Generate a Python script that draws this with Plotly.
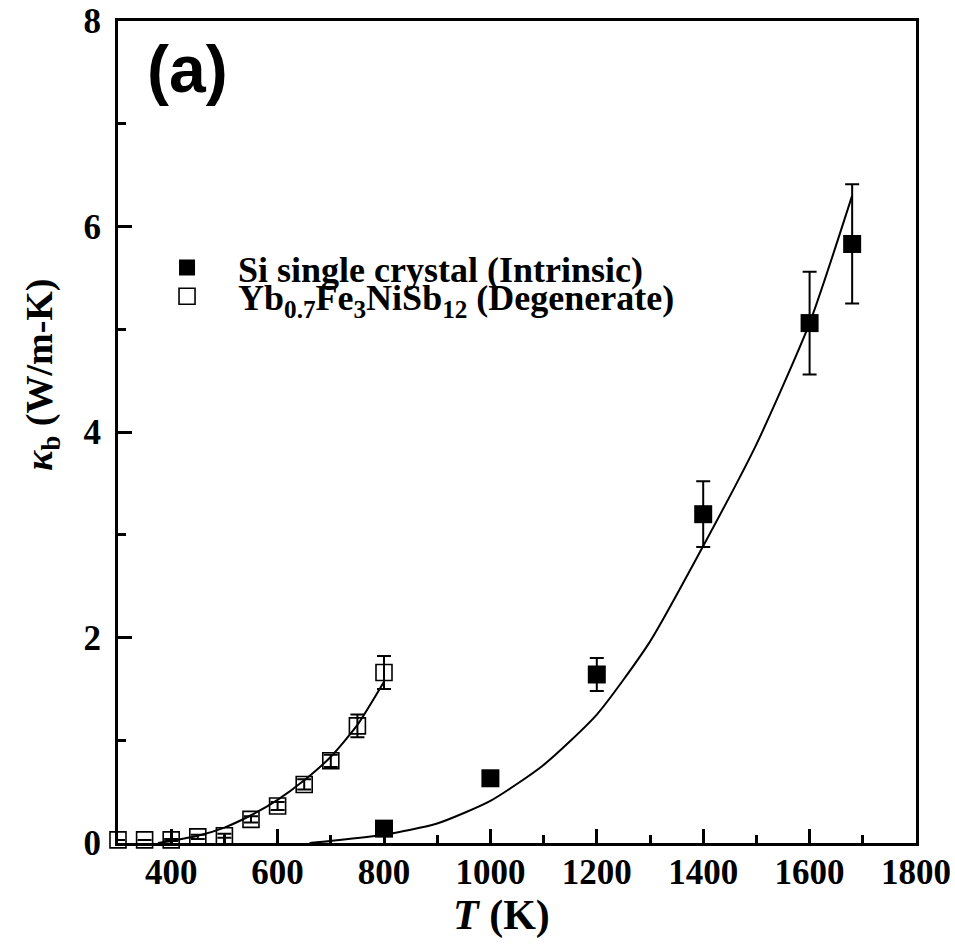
import plotly.graph_objects as go

# ---- data ----
si_T = [800, 1000, 1200, 1400, 1600, 1680]
si_kappa = [0.14, 0.63, 1.64, 3.20, 5.06, 5.83]
si_err = [0.0, 0.0, 0.16, 0.32, 0.50, 0.58]

si_fit_T = [660, 700, 800, 900, 1000, 1100, 1200, 1300, 1400, 1500, 1600, 1680]
si_fit_kappa = [0.0, 0.02, 0.08, 0.19, 0.41, 0.76, 1.25, 1.96, 2.89, 3.88, 5.06, 6.30]

yb_T = [300, 350, 400, 450, 500, 550, 600, 650, 700, 750, 800]
yb_kappa = [0.03, 0.03, 0.03, 0.06, 0.07, 0.23, 0.36, 0.57, 0.80, 1.14, 1.66]
yb_err = [0.0, 0.0, 0.01, 0.02, 0.02, 0.03, 0.04, 0.05, 0.06, 0.11, 0.16]

yb_fit_T = [375, 400, 450, 500, 550, 600, 650, 700, 750, 800]
yb_fit_kappa = [0.0, 0.02, 0.07, 0.15, 0.27, 0.42, 0.61, 0.84, 1.15, 1.57]

x_ticks = [400, 600, 800, 1000, 1200, 1400, 1600, 1800]
y_ticks = [0, 2, 4, 6, 8]

si_name = "Si single crystal (Intrinsic)"
yb_name = "Yb<sub>0.7</sub>Fe<sub>3</sub>NiSb<sub>12</sub> (Degenerate)"

SERIF = "Liberation Serif"

fig = go.Figure()

fig.add_trace(go.Scatter(
    x=si_fit_T, y=si_fit_kappa, mode="lines",
    line=dict(color="black", width=2, shape="spline", smoothing=0.6),
    showlegend=False, hoverinfo="skip"))
fig.add_trace(go.Scatter(
    x=yb_fit_T, y=yb_fit_kappa, mode="lines",
    line=dict(color="black", width=2, shape="spline", smoothing=0.6),
    showlegend=False, hoverinfo="skip"))

fig.add_trace(go.Scatter(
    x=si_T, y=si_kappa, mode="markers", name=si_name, legend="legend",
    marker=dict(symbol="square", size=18, color="black"),
    error_y=dict(type="data", array=si_err, visible=True, color="black",
                 thickness=2, width=7),
    cliponaxis=False))
fig.add_trace(go.Scatter(
    x=yb_T, y=yb_kappa, mode="markers", name=yb_name, legend="legend2",
    marker=dict(symbol="square-open", size=16, color="black",
                line=dict(width=1.6, color="black")),
    error_y=dict(type="data", array=yb_err, visible=True, color="black",
                 thickness=2, width=7),
    cliponaxis=False))

legend_common = dict(
    font=dict(family=SERIF, size=36, color="black", weight="bold"),
    bgcolor="rgba(0,0,0,0)", borderwidth=0, itemwidth=92,
    xanchor="left", yanchor="middle", itemsizing="trace")

fig.update_layout(
    width=955, height=947,
    margin=dict(l=118, r=39, t=21, b=104, autoexpand=False),
    paper_bgcolor="white", plot_bgcolor="white",
    font=dict(family=SERIF, color="black"),
    legend=dict(x=0.0226, y=0.700, **legend_common),
    legend2=dict(x=0.0226, y=0.665, **legend_common),
    xaxis=dict(
        range=[300, 1800], tickvals=x_ticks, automargin=False,
        ticks="inside", ticklen=14, tickwidth=3, tickcolor="black",
        minor=dict(dtick=100, tick0=0, ticks="inside", ticklen=8,
                   tickwidth=3, tickcolor="black"),
        showline=True, linewidth=3, linecolor="black", mirror=True,
        showgrid=False, zeroline=False, ticklabelstandoff=-4,
        tickfont=dict(family=SERIF, size=35, color="black", weight="bold")),
    yaxis=dict(
        range=[0, 8], tickvals=y_ticks, automargin=False,
        ticks="inside", ticklen=14, tickwidth=3, tickcolor="black",
        minor=dict(dtick=1, tick0=0, ticks="inside", ticklen=8,
                   tickwidth=3, tickcolor="black"),
        showline=True, linewidth=3, linecolor="black", mirror=True,
        showgrid=False, zeroline=False, ticklabelstandoff=7,
        tickfont=dict(family=SERIF, size=35, color="black", weight="bold")),
    annotations=[
        dict(text="(a)", xref="paper", yref="paper", x=0.0865, y=0.9415,
             xanchor="center", yanchor="middle", showarrow=False,
             font=dict(family="Liberation Sans", size=66, color="black",
                       weight="bold")),
        dict(text="<i>T</i> (K)", xref="paper", yref="paper", x=0.481,
             y=-0.0877, xanchor="center", yanchor="middle", showarrow=False,
             font=dict(family=SERIF, size=42, color="black", weight="bold")),
        dict(text="<i>κ</i><sub>b</sub> (W/m-K)", xref="paper", yref="paper",
             x=-0.095, y=0.57, xanchor="center", yanchor="middle",
             textangle=-90, showarrow=False,
             font=dict(family=SERIF, size=38, color="black", weight="bold")),
    ],
)

fig.write_html("out.html")
